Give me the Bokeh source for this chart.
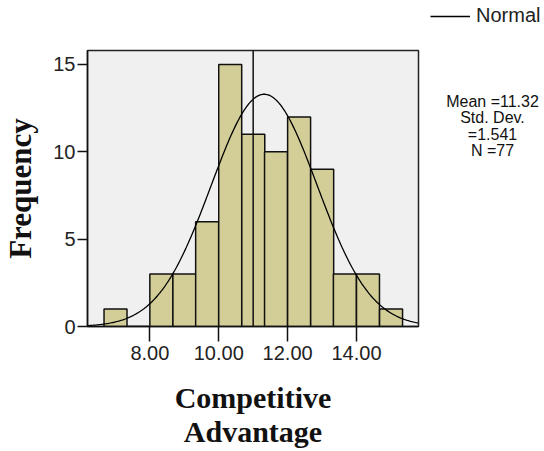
import numpy as np
from bokeh.plotting import figure
from bokeh.layouts import row
from bokeh.models import (Range1d, FixedTicker, NumeralTickFormatter, Span,
                          Label, Legend, LegendItem)
from bokeh.embed import file_html
from bokeh.resources import INLINE

# Histogram of the Competitive Advantage scores
bin_lefts = [6.67, 7.33, 8.00, 8.67, 9.33, 10.00, 10.67, 11.33, 12.00, 12.67, 13.33, 14.00, 14.67]
bin_width = 0.667
counts = [1, 0, 3, 3, 6, 15, 11, 10, 12, 9, 3, 3, 1]

# Summary statistics shown beside the chart
mean = 11.32
std_dev = 1.541
n_obs = 77
ref_line = 11.0

x_ticks = [8, 10, 12, 14]
y_ticks = [0, 5, 10, 15]
x_lo, x_hi = 6.19, 15.80
y_lo, y_hi = 0, 15.8

H = 451
MAIN_W, SIDE_W = 422, 122
BL, BR, BT, BB = 87, 4, 50, 125

p = figure(width=MAIN_W, height=H, output_backend="svg", toolbar_location=None,
           x_range=Range1d(x_lo, x_hi), y_range=Range1d(y_lo, y_hi),
           min_border_left=BL, min_border_right=BR,
           min_border_top=BT, min_border_bottom=BB)
p.frame_align = False

p.background_fill_color = "#F0F0F0"
p.border_fill_color = "white"
p.outline_line_color = "#222222"
p.outline_line_width = 1.5
p.xgrid.visible = False
p.ygrid.visible = False

lefts = np.array(bin_lefts)
p.quad(left=lefts, right=lefts + bin_width, bottom=0, top=counts,
       fill_color="#D3CE97", line_color="#111111", line_width=1.5)

# Normal curve scaled to the histogram (N * bin width * pdf)
xs = np.linspace(x_lo, x_hi, 300)
ys = n_obs * bin_width * np.exp(-0.5 * ((xs - mean) / std_dev) ** 2) / (std_dev * np.sqrt(2 * np.pi))
curve_style = dict(line_color="black", line_width=1.3)
p.line(xs, ys, **curve_style)

p.add_layout(Span(location=ref_line, dimension="height", line_color="#111111", line_width=1.5))

# axes
for ax in (p.xaxis[0], p.yaxis[0]):
    ax.axis_line_color = "#111111"
    ax.axis_line_width = 1.5
    ax.major_tick_line_color = "#111111"
    ax.major_tick_line_width = 1.5
    ax.major_tick_in = 0
    ax.minor_tick_line_color = None
    ax.major_label_text_font = "Liberation Sans"
    ax.major_label_text_font_size = "20px"
    ax.major_label_text_color = "#222222"
    ax.axis_label_text_font = "Liberation Serif"
    ax.axis_label_text_font_style = "bold"
    ax.axis_label_text_font_size = "30px"
    ax.axis_label_text_color = "#111111"

p.xaxis.ticker = FixedTicker(ticks=x_ticks)
p.xaxis.formatter = NumeralTickFormatter(format="0.00")
p.xaxis.major_tick_out = 15
p.xaxis.major_label_standoff = 4
p.xaxis.axis_label = "Competitive\nAdvantage"
p.xaxis.axis_label_text_line_height = 1.05
p.xaxis.axis_label_standoff = 18

p.yaxis.ticker = FixedTicker(ticks=y_ticks)
p.yaxis.major_tick_out = 10
p.yaxis.major_label_standoff = 2
p.yaxis.axis_label = "Frequency"
p.yaxis.axis_label_text_font_size = "31px"
p.yaxis.axis_label_standoff = 12

# side panel holding the legend and the statistics block (page-pixel coordinates)
side = figure(width=SIDE_W, height=H, output_backend="svg", toolbar_location=None,
              x_range=Range1d(MAIN_W, MAIN_W + SIDE_W), y_range=Range1d(H, 0),
              x_axis_type=None, y_axis_type=None,
              min_border_left=0, min_border_right=0, min_border_top=0, min_border_bottom=0)
side.frame_align = False
side.outline_line_color = None
side.background_fill_color = "white"
side.border_fill_color = "white"
side.xgrid.visible = False
side.ygrid.visible = False

# legend key: the same curve, lying outside this panel's visible range
key = side.line(xs, ys, **curve_style)
legend = Legend(items=[LegendItem(label="Normal", renderers=[key])],
                location=(430 - MAIN_W, H - 27),
                padding=0, margin=0, spacing=0,
                glyph_width=40, glyph_height=20, label_height=20,
                label_standoff=6, label_text_font="Liberation Sans",
                label_text_font_size="20px", label_text_color="#222222",
                border_line_alpha=0, background_fill_alpha=0)
side.add_layout(legend)

stat_lines = [f"Mean ={mean:.2f}", "Std. Dev.", f"={std_dev:.3f}", f"N ={n_obs}"]
stat_base = [100.5, 117, 133.5, 150]
for txt, b in zip(stat_lines, stat_base):
    side.add_layout(Label(x=492, y=b, text=txt, text_font="Liberation Sans",
                          text_font_size="16px", text_color="#111111",
                          text_align="center", text_baseline="alphabetic"))

open("out.html", "w").write(file_html(row(p, side, spacing=0), INLINE))
